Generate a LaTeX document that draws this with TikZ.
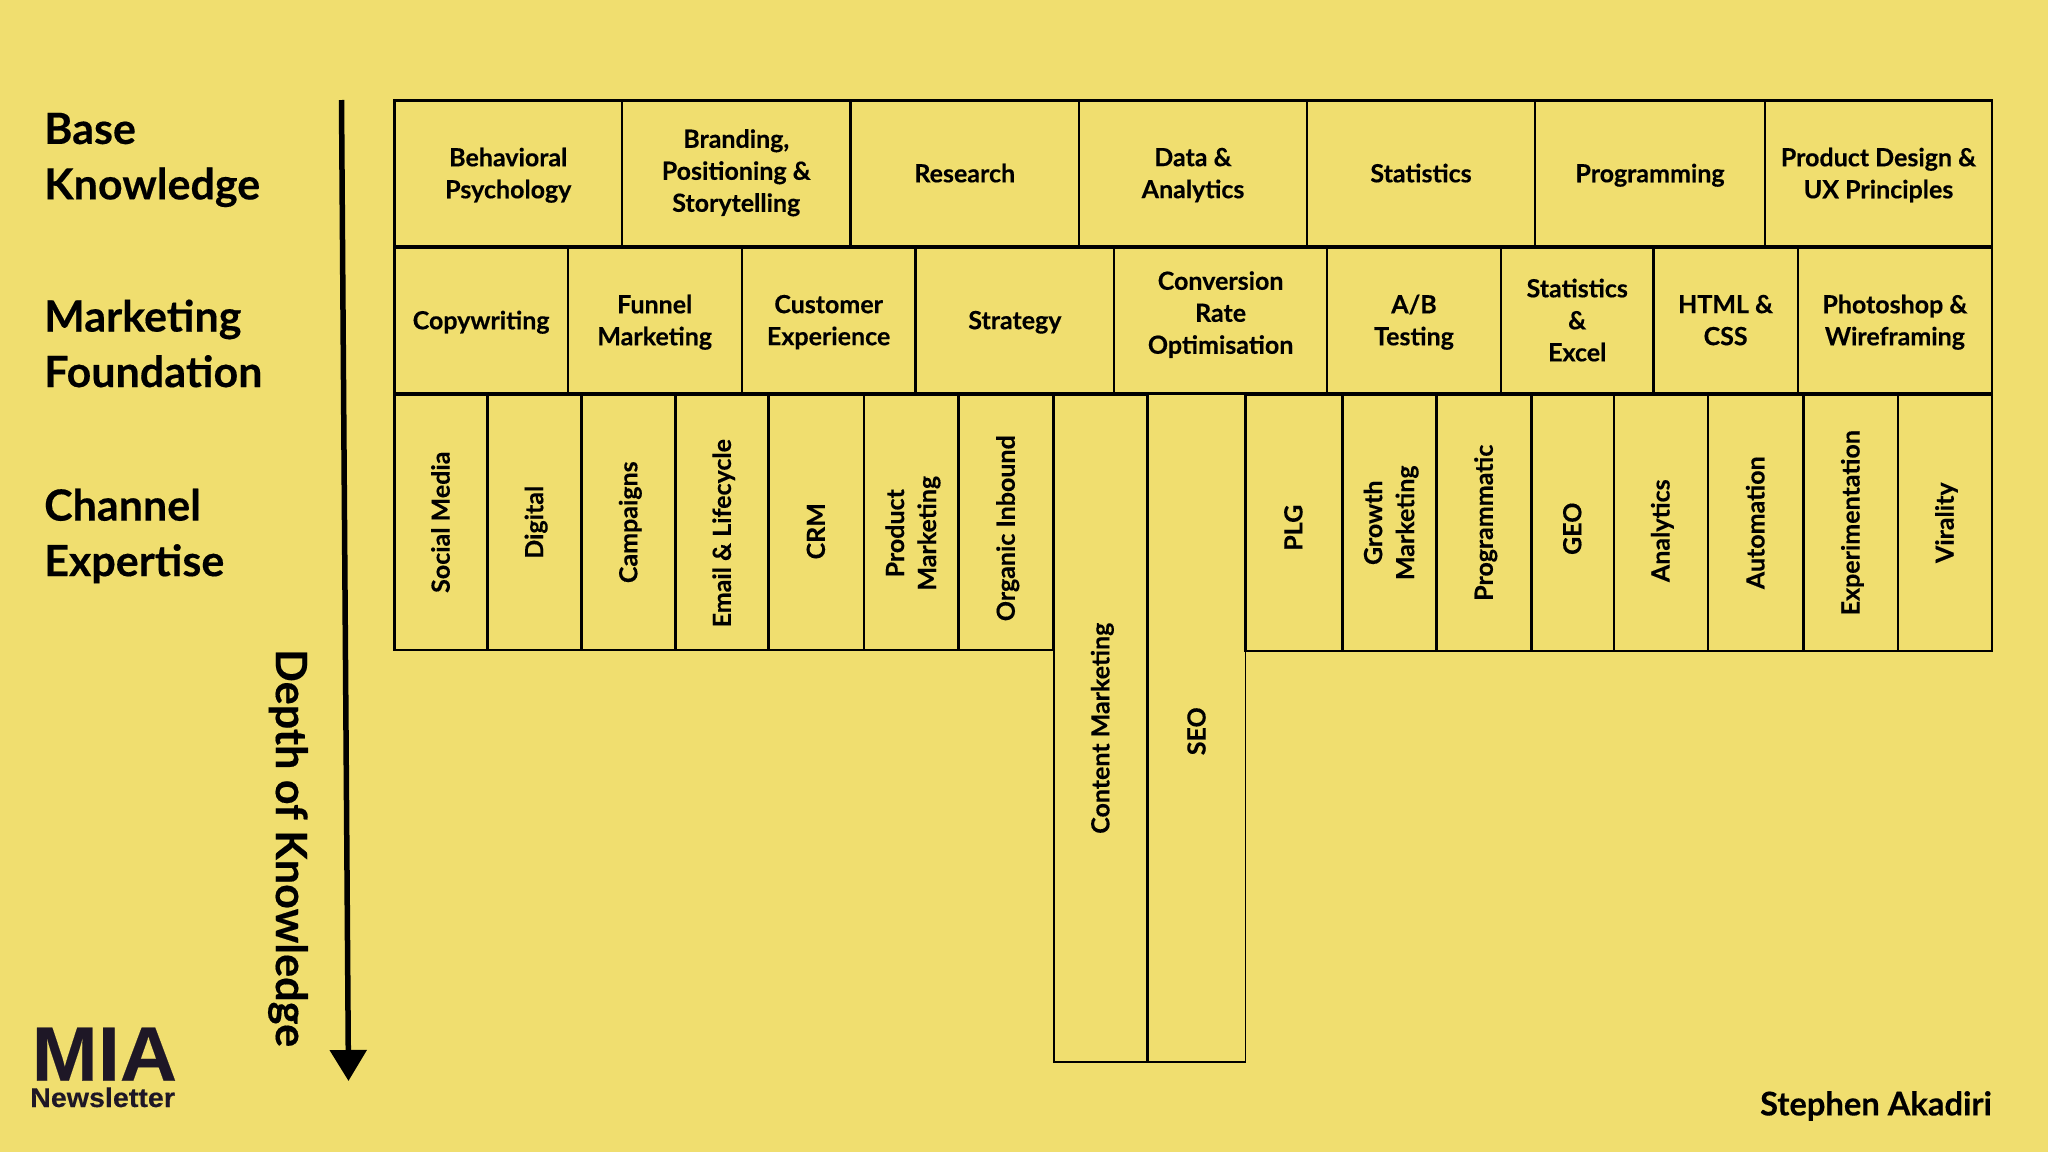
\documentclass[tikz,border=0pt]{standalone}
\usepackage{fontspec}
\setmainfont{Lato}[BoldFeatures={FakeBold=0.35}]
\newfontfamily\logofont{Liberation Sans}[BoldFeatures={FakeBold=0.2}]
\usetikzlibrary{arrows.meta}
\definecolor{bgyellow}{HTML}{F0DE6F}
\definecolor{logoink}{HTML}{1E1726}
\tikzset{
  cell/.style={draw=black,line width=2.4pt,inner sep=0pt,outer sep=0pt,align=center,text=black,text depth=1pt,
    font=\fontsize{25}{32}\selectfont\bfseries},
  thincell/.style={cell,line width=1.5pt},
  sidelabel/.style={anchor=west,inner sep=0pt,align=left,text=black,
    font=\fontsize{43}{55.5}\selectfont\bfseries},
}
\newcommand{\tailgap}[1]{\hspace*{#1pt}}
\newcommand{\rowcell}[6][]{%
  \pgfmathsetmacro\cellw{#4-#2}\pgfmathsetmacro\cellh{#5-#3}%
  \pgfmathsetmacro\cellx{(#4+#2)/2}\pgfmathsetmacro\celly{(#5+#3)/2}%
  \node[cell,minimum width=\cellw pt,minimum height=\cellh pt,#1] (#2x) at (\cellx,\celly) {#6};%
}
\newcommand{\colcell}[7][cell]{%
  \pgfmathsetmacro\cellw{#5-#3}\pgfmathsetmacro\cellh{#6-#4}%
  \pgfmathsetmacro\cellx{(#5+#3)/2}\pgfmathsetmacro\celly{(#6+#4)/2}%
  \node[#1,rotate=90,minimum width=\cellh pt,minimum height=\cellw pt] (#2) at (\cellx,\celly) {#7};%
}
\begin{document}
\begin{tikzpicture}[x=1pt,y=-1pt]
\useasboundingbox (0,0) rectangle (2048,1152);
\fill[bgyellow] (0,0) rectangle (2048,1152);

% labels
\node[sidelabel] (lbase) at (44,160) {Base\\Knowledge};
\node[sidelabel] (lfound) at (44,343.5) {Marketing\\Foundation};
\node[sidelabel] (lchan) at (44,536) {Channel\\Expertise};

% row 1
\rowcell{394.5}{100.5}{622}{246.5}{Behavioral\\Psychology}
\rowcell[text depth=6pt]{622}{100.5}{850.5}{246.5}{Branding,\\Positioning \&\\Storytelling}
\rowcell{850.5}{100.5}{1079}{246.5}{Research}
\rowcell{1079}{100.5}{1307}{246.5}{Data \&\\Analytics}
\rowcell{1307}{100.5}{1535}{246.5}{Statistics}
\rowcell{1535}{100.5}{1765}{246.5}{Programming}
\rowcell{1765}{100.5}{1992}{246.5}{Product Design \&\\UX Principles}

% row 2
\rowcell{394.5}{247.5}{567.7}{393.5}{Copywriting}
\rowcell{567.7}{247.5}{741.7}{393.5}{Funnel\\Marketing}
\rowcell{741.7}{247.5}{915.6}{393.5}{Customer\\Experience}
\rowcell{915.6}{247.5}{1114.2}{393.5}{Strategy}
\rowcell[text depth=16pt]{1114.2}{247.5}{1327}{393.5}{Conversion\\Rate\\Optimisation}
\rowcell{1327}{247.5}{1501}{393.5}{A/B\\Testing}
\rowcell{1501}{247.5}{1653.4}{393.5}{Statistics\\\&\\Excel}
\rowcell{1653.4}{247.5}{1797.8}{393.5}{HTML \&\\CSS}
\rowcell{1797.8}{247.5}{1992}{393.5}{Photoshop \&\\Wireframing}

% row 3
\colcell{c1}{394.5}{394.5}{487.3}{650}{Social Media}
\colcell{c2}{487.3}{394.5}{581.5}{650}{Digital}
\colcell{c3}{581.5}{394.5}{675.6}{650}{Campaigns}
\colcell{c4}{675.6}{394.5}{768.6}{650}{Email \& Lifecycle\tailgap{22}}
\colcell{c5}{768.6}{394.5}{863.9}{650}{CRM\tailgap{18}}
\colcell{c6}{863.9}{394.5}{958.6}{650}{Product\tailgap{22}\\Marketing\tailgap{22}}
\colcell{c7}{958.6}{394.5}{1053.4}{650}{Organic Inbound\tailgap{12}}
\colcell{c8}{1053.7}{394.5}{1147.5}{1062}{Content Marketing}
\colcell[thincell]{c9}{1148.5}{394.5}{1245.3}{1062}{SEO\tailgap{6}}
\colcell{c10}{1245.3}{394.5}{1342.3}{651}{PLG\tailgap{10}}
\colcell{c11}{1342.3}{394.5}{1436.4}{651}{Growth\\Marketing}
\colcell{c12}{1436.4}{394.5}{1531.6}{651}{Programmatic}
\colcell{c13}{1531.6}{394.5}{1613.7}{651}{GEO\tailgap{12}}
\colcell{c14}{1613.7}{394.5}{1707.8}{651}{Analytics\tailgap{16}}
\colcell{c15}{1707.8}{394.5}{1803.5}{651}{Automation}
\colcell{c16}{1803.5}{394.5}{1898}{651}{Experimentation}
\colcell{c17}{1898}{394.5}{1991.8}{651}{Virality}

% depth arrow
\coordinate (astart) at (341.5,100);
\coordinate (aend) at (348.5,1081);
\draw[line width=5.5pt,-{Triangle[width=36pt,length=31pt]}] (astart) -- (aend);
\node[rotate=-90,inner sep=0pt,text=black,font=\fontsize{43.2}{48}\selectfont\bfseries] (depth) at (288,848) {Depth of Knowledge};

% logo
\node[anchor=base west,inner sep=0pt,text=logoink,text height=55pt,text depth=0pt,font=\logofont\fontsize{77}{77}\selectfont\bfseries,xscale=1.03] (mia) at (31.5,1080.7) {MIA};
\node[anchor=base west,inner sep=0pt,text=logoink,text height=19pt,text depth=0pt,font=\logofont\fontsize{27}{27}\selectfont\bfseries,xscale=1.06] (news) at (30,1107) {Newsletter};

% author
\node[anchor=east,inner sep=0pt,text=black,font=\fontsize{32.7}{36}\selectfont\bfseries] (author) at (1992,1106) {Stephen Akadiri};
\end{tikzpicture}
\end{document}
